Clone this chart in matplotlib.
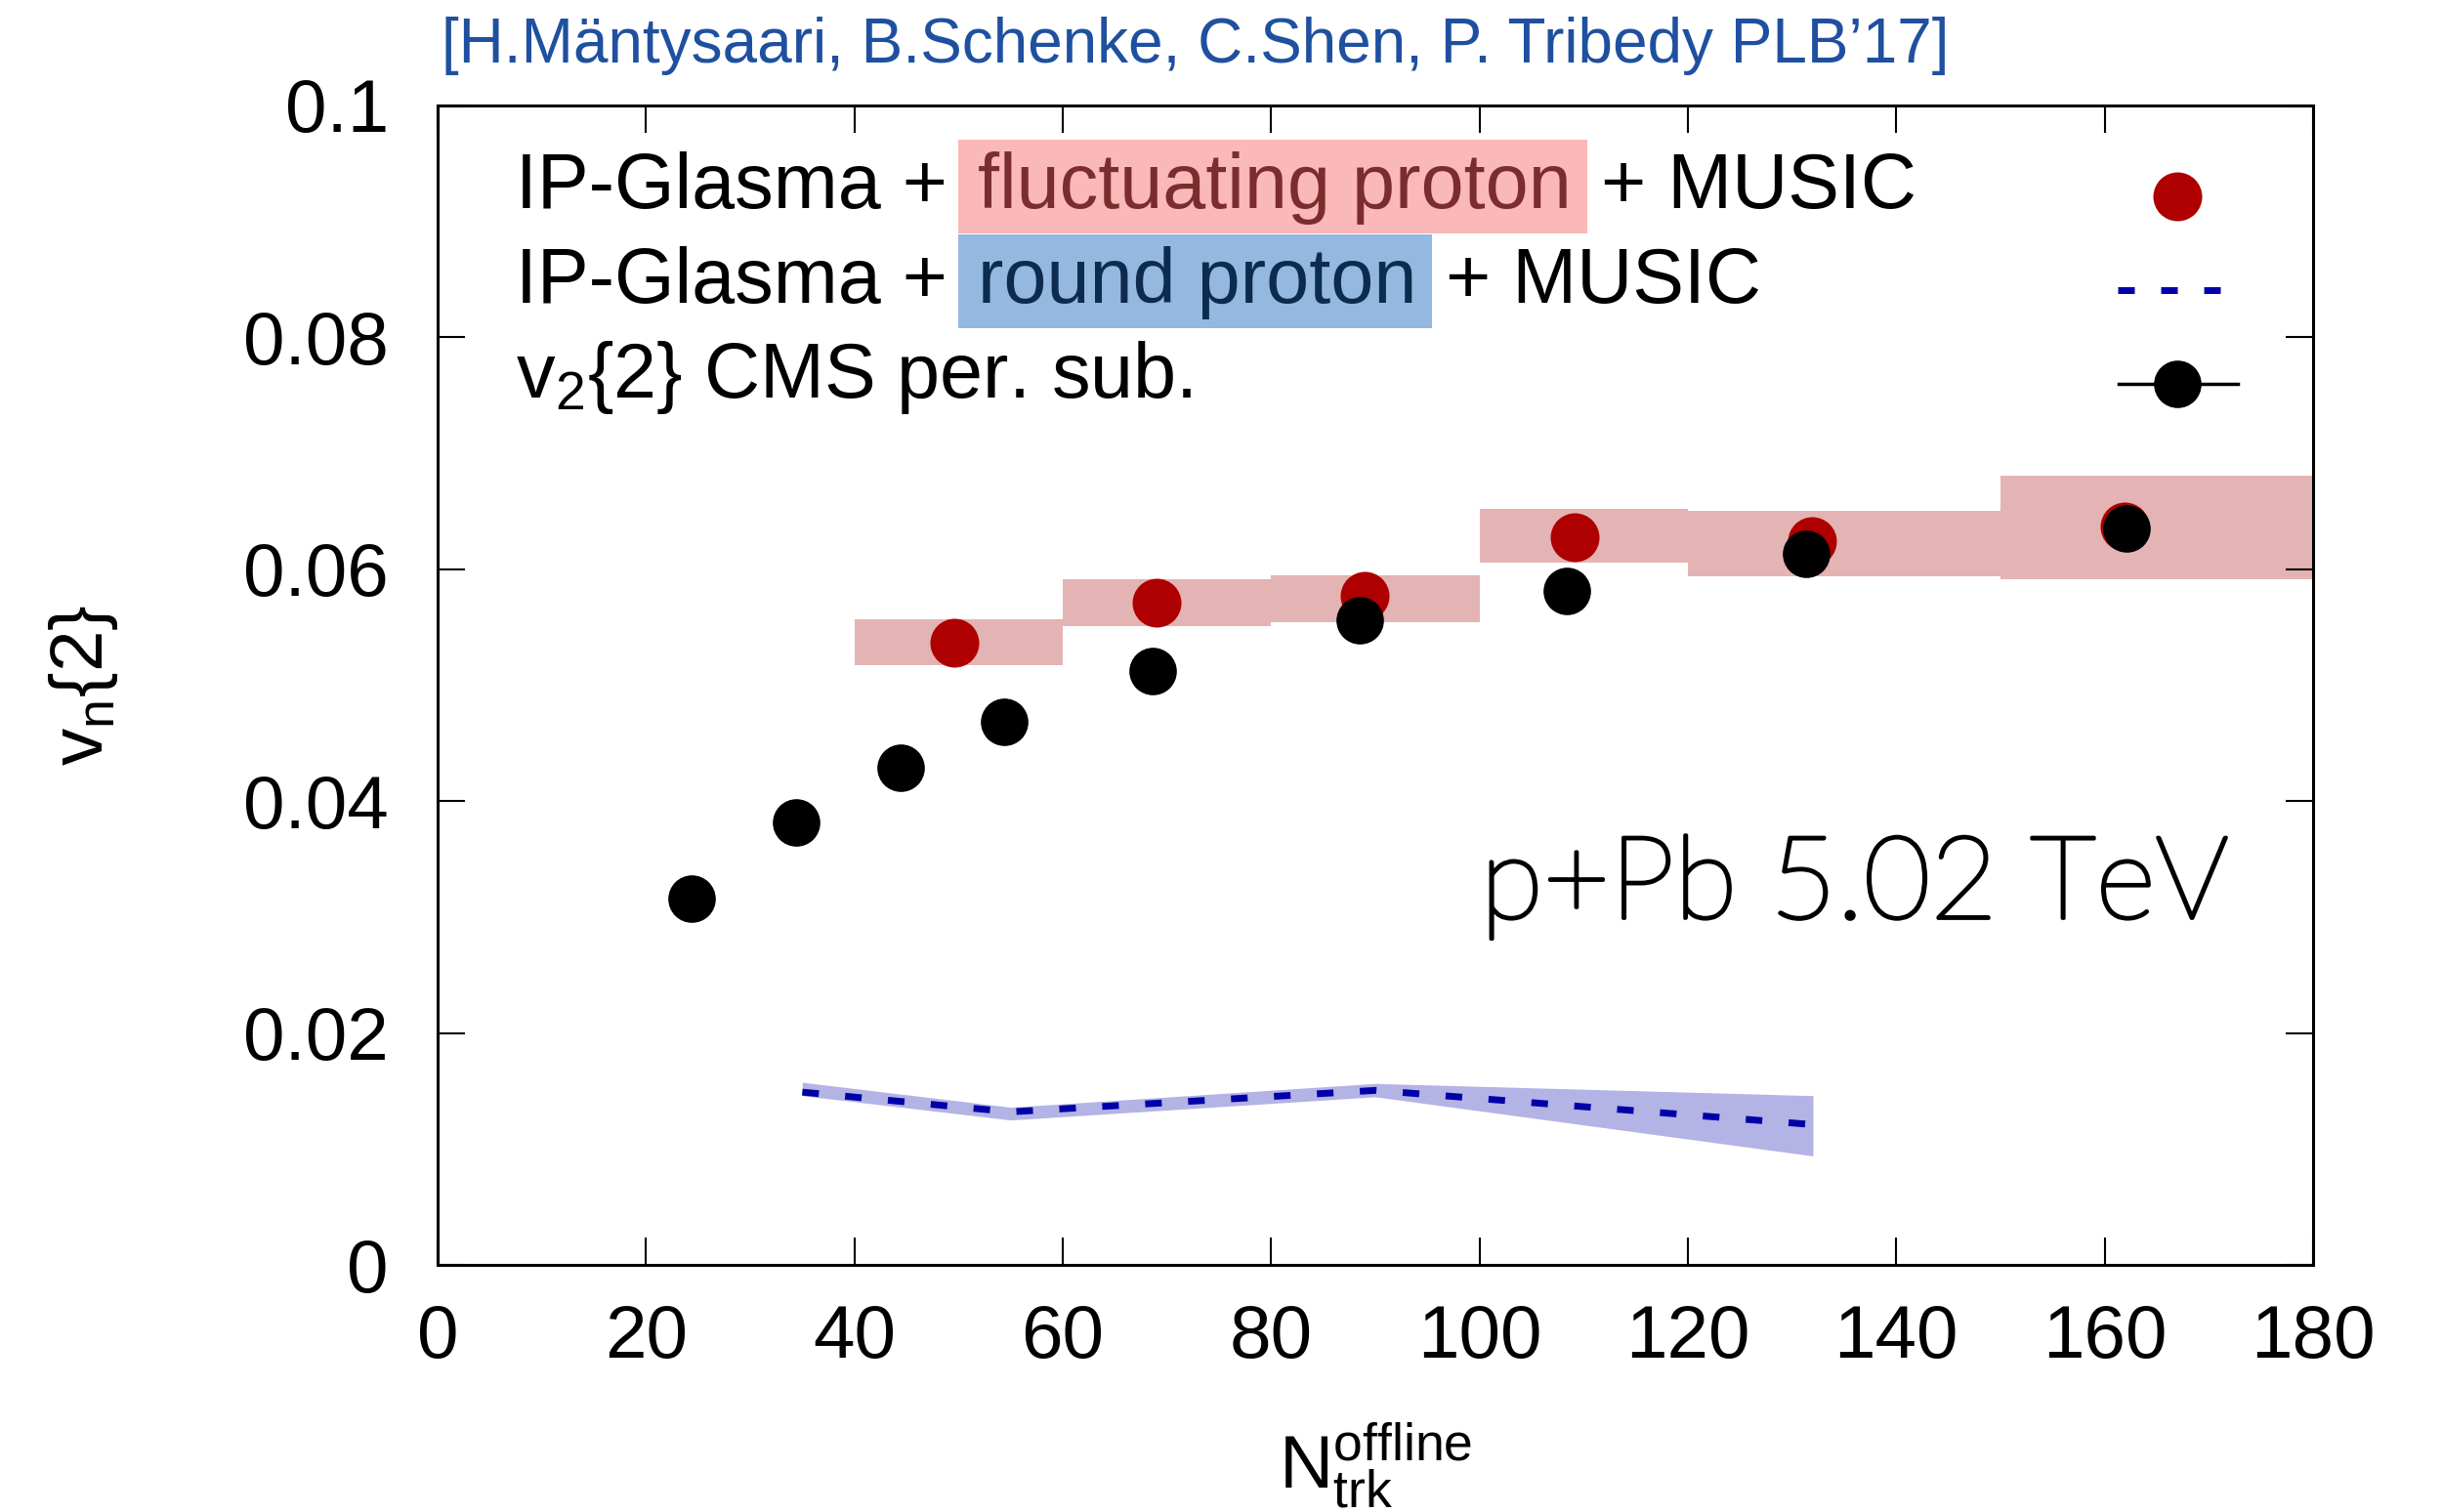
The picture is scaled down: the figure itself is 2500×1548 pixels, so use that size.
import matplotlib
matplotlib.use('Agg')
import matplotlib.pyplot as plt
import matplotlib.patheffects as pe
from matplotlib.patches import Rectangle

plt.rcParams['font.family'] = ['Liberation Sans', 'DejaVu Sans']
plt.rcParams['mathtext.fontset'] = 'custom'
plt.rcParams['mathtext.rm'] = 'Liberation Sans'
plt.rcParams['mathtext.it'] = 'Liberation Sans'

# CMS v2{2}, peripheral subtraction
cms_n = [24.4, 34.4, 44.4, 54.4, 68.6, 88.5, 108.4, 131.3, 162.1]
cms_v2 = [0.0316, 0.0382, 0.0429, 0.0468, 0.0512, 0.0556, 0.0581, 0.0613, 0.0635]

# IP-Glasma + fluctuating proton + MUSIC, points and uncertainty per multiplicity bin
fluct_n = [49.6, 69.0, 89.0, 109.1, 131.9, 161.9]
fluct_v2 = [0.0537, 0.0571, 0.0577, 0.0628, 0.0624, 0.0637]
bin_lo = [40, 60, 80, 100, 120, 150]
bin_hi = [60, 80, 100, 120, 150, 180]
fluct_lo = [0.0517, 0.0551, 0.0554, 0.0606, 0.0594, 0.0591]
fluct_hi = [0.0557, 0.0591, 0.0595, 0.0652, 0.0650, 0.0681]

# IP-Glasma + round proton + MUSIC
round_n = [35, 55, 90, 132]
round_v2 = [0.0149, 0.0132, 0.01505, 0.0121]
round_lo = [0.0146, 0.0125, 0.0145, 0.0094]
round_hi = [0.01575, 0.0136, 0.01565, 0.0146]

x_ticks = [0, 20, 40, 60, 80, 100, 120, 140, 160, 180]
y_ticks = [0, 0.02, 0.04, 0.06, 0.08, 0.1]
y_tick_labels = ['0', '0.02', '0.04', '0.06', '0.08', '0.1']

RED = '#ae0000'
RED_BAND = '#e4b3b3'
BLUE = '#0000a8'
BLUE_BAND = '#b3b3e5'

W, H = 2500, 1548
fig = plt.figure(figsize=(W / 100, H / 100), dpi=100)
ax = fig.add_axes([448 / W, 1 - 1295 / H, 1920 / W, 1187 / H])

# model bands and points
widths = [h - l for l, h in zip(bin_lo, bin_hi)]
heights = [h - l for l, h in zip(fluct_lo, fluct_hi)]
ax.bar(bin_lo, heights, width=widths, bottom=fluct_lo, align='edge',
       color=RED_BAND, linewidth=0, zorder=1)
ax.plot(fluct_n, fluct_v2, 'o', color=RED, ms=36, mew=0, zorder=3)

ax.fill_between(round_n, round_lo, round_hi, color=BLUE_BAND, linewidth=0, zorder=1)
ax.plot(round_n, round_v2, color=BLUE, lw=5, dashes=(2.45, 3.89),
        dash_capstyle='butt', zorder=2)

ax.plot(cms_n, cms_v2, 'o', color='black', ms=35, mew=0, zorder=4)

ax.set_xlim(0, 180)
ax.set_ylim(0, 0.1)
ax.set_xticks(x_ticks)
ax.set_yticks(y_ticks)
ax.set_yticklabels(y_tick_labels)
ax.tick_params(direction='in', length=20, width=1.5, top=True, right=True,
               labelsize=55)
ax.tick_params(axis='x', pad=29)
ax.tick_params(axis='y', pad=36)
for sp in ax.spines.values():
    sp.set_linewidth(2.2)

ax.set_ylabel(r'$\mathregular{v_n\{2\}}$', fontsize=55, va='center')
ax.yaxis.set_label_coords(-0.189, 0.5)
ax.set_xlabel(r'$\mathregular{N_{trk}^{offline}}$', fontsize=55, va='top')
ax.xaxis.set_label_coords(0.5, -0.134)

# thin face, thickened slightly with a stroke of the same colour
ax.text(0.556, 0.299, 'p+Pb 5.02 TeV', transform=ax.transAxes, fontsize=85,
        family='Lato', fontweight='light', va='baseline', ha='left',
        path_effects=[pe.withStroke(linewidth=2.6, foreground='black')])

fig.text(452 / W, 1 - 64 / H, '[H.Mäntysaari, B.Schenke, C.Shen, P. Tribedy PLB’17]',
         fontsize=46, color='#1f50a0', va='baseline', ha='left')

# legend: text rows with highlighted proton type
renderer = fig.canvas.get_renderer()
to_axes = ax.transAxes.inverted()


def img_to_axes(x, y):
    return to_axes.transform((x, H - y))


def legend_row(y_base, left, mid, right, box_color, mid_color):
    fs = 57
    x, y = img_to_axes(528, y_base)
    t1 = ax.text(x, y, left, transform=ax.transAxes, fontsize=fs, va='baseline', zorder=6)
    bb = t1.get_window_extent(renderer)
    x, y = to_axes.transform((bb.x1 + 31, H - y_base))
    t2 = ax.text(x, y, mid, transform=ax.transAxes, fontsize=fs, va='baseline',
                 color=mid_color, zorder=6)
    bb2 = t2.get_window_extent(renderer)
    bx0, by0 = to_axes.transform((bb2.x0 - 20, H - (y_base + 26)))
    bx1, by1 = to_axes.transform((bb2.x1 + 16, H - (y_base - 70)))
    ax.add_patch(Rectangle((bx0, by0), bx1 - bx0, by1 - by0, transform=ax.transAxes,
                           facecolor=box_color, edgecolor='none', zorder=5))
    x, y = to_axes.transform((bb2.x1 + 16 + 14, H - y_base))
    ax.text(x, y, right, transform=ax.transAxes, fontsize=fs, va='baseline', zorder=6)


legend_row(213, 'IP-Glasma +', 'fluctuating proton', '+ MUSIC', '#fbb8b8', '#7b2d2d')
legend_row(310, 'IP-Glasma +', 'round proton', '+ MUSIC', '#94b8df', '#0d2a4f')
x, y = img_to_axes(528, 407)
ax.text(x, y, r'$\mathregular{v_2\{2\}}$ CMS per. sub.', transform=ax.transAxes,
        fontsize=57, va='baseline', zorder=6)

# legend keys
ax.plot([0.9276], [0.9216], 'o', color=RED, ms=36, mew=0, transform=ax.transAxes)
ax.plot([0.8958, 0.9505], [0.8408, 0.8408], color=BLUE, lw=5, dashes=(2.45, 3.89),
        dash_capstyle='butt', transform=ax.transAxes)
ax.plot([0.8964, 0.9599], [0.7599, 0.7599], color='black', lw=2.5, transform=ax.transAxes)
ax.plot([0.9276], [0.7599], 'o', color='black', ms=35, mew=0, transform=ax.transAxes)

fig.savefig('out.png', dpi=100)
